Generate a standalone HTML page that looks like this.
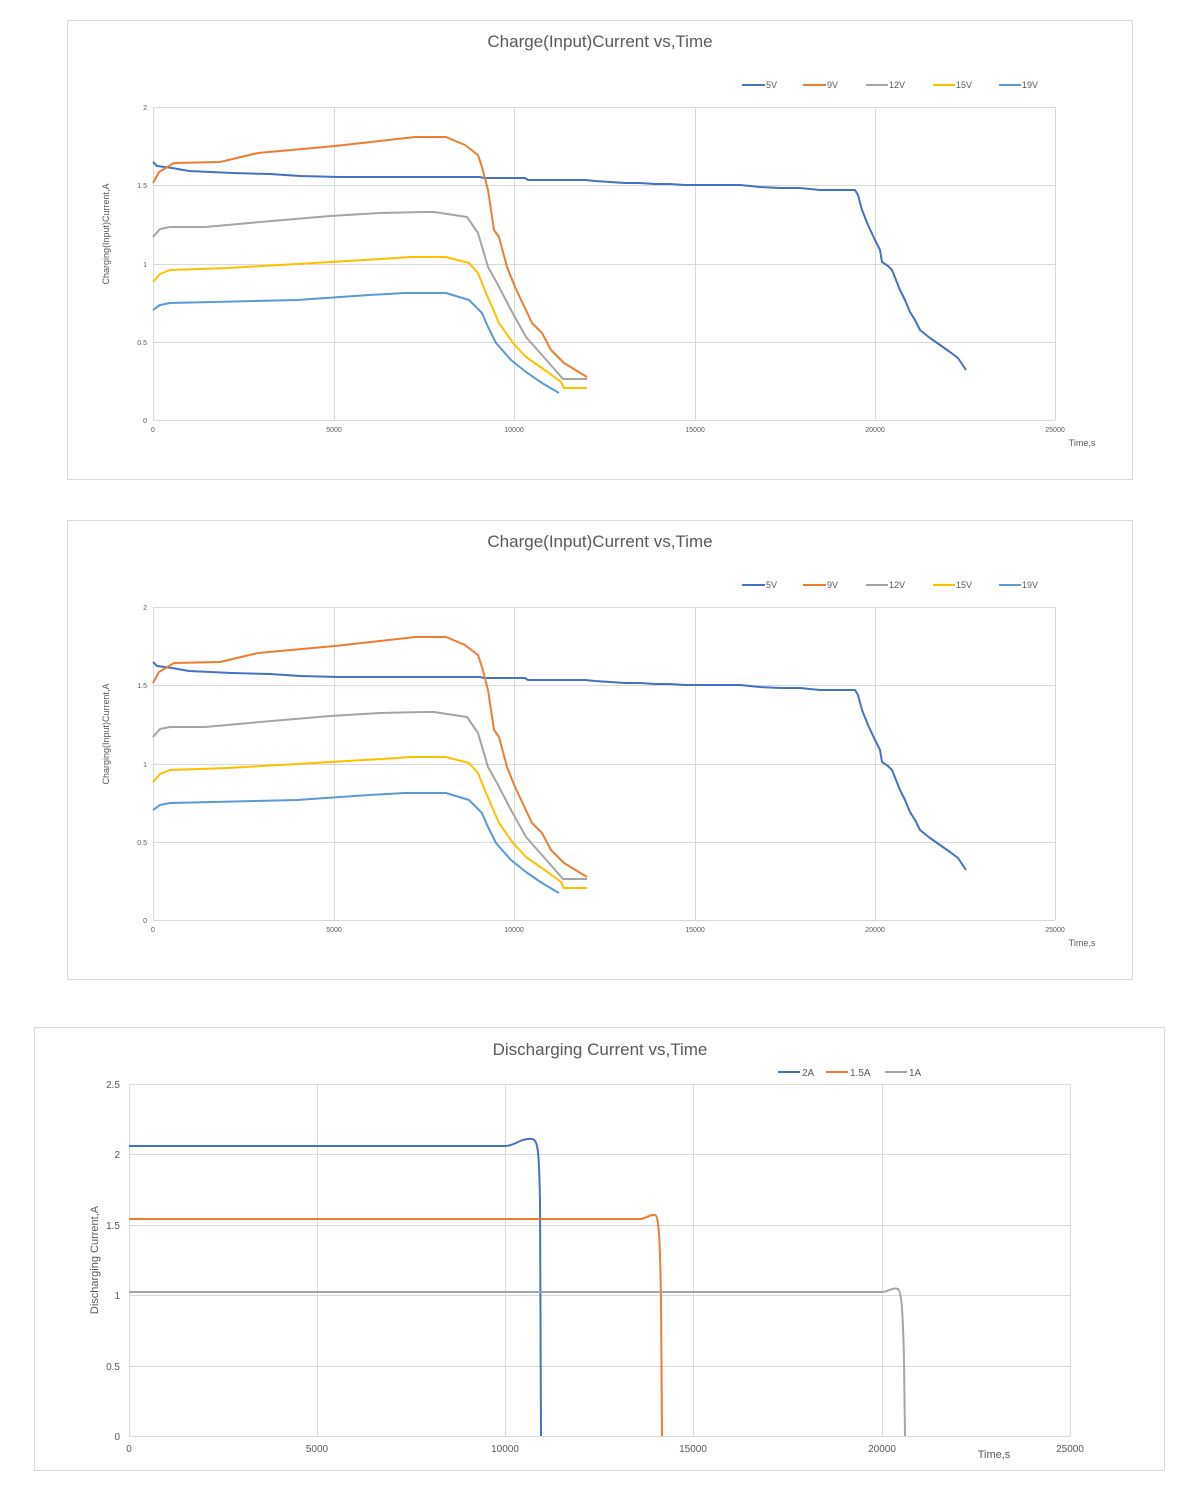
<!DOCTYPE html>
<html><head><meta charset="utf-8"><style>
html,body{margin:0;padding:0;background:#fff;width:1200px;height:1500px;overflow:hidden}
svg{position:absolute;left:0;font-family:"Liberation Sans",sans-serif}
</style></head><body>
<svg width="1200" height="500" style="top:0" viewBox="0 0 1200 500">
<rect x="67.5" y="20.5" width="1065" height="459" fill="#fff" stroke="#d9d9d9"/>
<text x="600" y="47" text-anchor="middle" font-size="17" fill="#595959">Charge(Input)Current vs,Time</text>
<g stroke-width="2" fill="none">
<line x1="742" y1="85" x2="765" y2="85" stroke="#4472C4"/><line x1="803" y1="85" x2="826" y2="85" stroke="#ED7D31"/><line x1="866" y1="85" x2="888" y2="85" stroke="#A5A5A5"/><line x1="933" y1="85" x2="955" y2="85" stroke="#FFC000"/><line x1="999" y1="85" x2="1021" y2="85" stroke="#5B9BD5"/></g>
<g font-size="9" fill="#595959"><text x="766" y="88">5V</text><text x="827" y="88">9V</text><text x="889" y="88">12V</text><text x="956" y="88">15V</text><text x="1022" y="88">19V</text></g>
<g stroke="#d9d9d9" stroke-width="1"><line x1="153" y1="107.5" x2="1055" y2="107.5"/><line x1="153" y1="185.5" x2="1055" y2="185.5"/><line x1="153" y1="264.5" x2="1055" y2="264.5"/><line x1="153" y1="342.5" x2="1055" y2="342.5"/><line x1="153" y1="420.5" x2="1055" y2="420.5"/>
<line x1="153.5" y1="107" x2="153.5" y2="420"/><line x1="334.5" y1="107" x2="334.5" y2="420"/><line x1="514.5" y1="107" x2="514.5" y2="420"/><line x1="695.5" y1="107" x2="695.5" y2="420"/><line x1="875.5" y1="107" x2="875.5" y2="420"/><line x1="1055.5" y1="107" x2="1055.5" y2="420"/></g>
<g font-size="7" fill="#595959" text-anchor="end"><text x="147" y="110">2</text><text x="147" y="188">1.5</text><text x="147" y="267">1</text><text x="147" y="345">0.5</text><text x="147" y="423">0</text></g>
<g font-size="7" fill="#595959" text-anchor="middle"><text x="153" y="432">0</text><text x="334" y="432">5000</text><text x="514" y="432">10000</text><text x="695" y="432">15000</text><text x="875" y="432">20000</text><text x="1055" y="432">25000</text></g>
<text x="1082" y="446" font-size="9" fill="#595959" text-anchor="middle">Time,s</text>
<text transform="translate(109,234) rotate(-90)" font-size="9" fill="#595959" text-anchor="middle">Charging(Input)Current,A</text>
<g fill="none" stroke-width="2" stroke-linejoin="round">
<polyline stroke="#4472C4" points="153,162 157,166 172,168 189,171 232,173 270,174 300,176 339,177 480,177 484,178 525,178 528,180 585,180 595,181 610,182 625,183 640,183 655,184 670,184 685,185 740,185 760,187 780,188 800,188 820,190 855,190 858,195 862,210 868,225 875,240 880,250 882,262 888,266 892,270 900,290 905,300 910,312 915,320 920,330 930,338 940,345 950,352 958,358 966,370"/>
<polyline stroke="#ED7D31" points="153,183 159,172 174,163 220,162 258,153 335,146 415,137 446,137 465,145 478,155 482,167 488,190 494,230 499,237 507,267 515,287 532,323 542,333 551,350 564,363 587,377"/>
<polyline stroke="#A5A5A5" points="153,237 160,229 170,227 205,227 260,222 330,216 380,213 423,212 434,212 467,217 478,233 488,267 497,283 511,310 526,337 549,363 563,379 587,379"/>
<polyline stroke="#FFC000" points="153,282 160,274 170,270 228,268 297,264 381,259 411,257 446,257 469,263 478,273 486,293 499,323 513,343 526,357 549,373 561,382 564,388 587,388"/>
<polyline stroke="#5B9BD5" points="153,310 160,305 170,303 297,300 369,295 404,293 446,293 469,300 482,313 488,327 496,343 511,360 526,372 542,383 559,393"/>
</g></svg>
<svg width="1200" height="500" style="top:500px" viewBox="0 0 1200 500">
<rect x="67.5" y="20.5" width="1065" height="459" fill="#fff" stroke="#d9d9d9"/>
<text x="600" y="47" text-anchor="middle" font-size="17" fill="#595959">Charge(Input)Current vs,Time</text>
<g stroke-width="2" fill="none">
<line x1="742" y1="85" x2="765" y2="85" stroke="#4472C4"/><line x1="803" y1="85" x2="826" y2="85" stroke="#ED7D31"/><line x1="866" y1="85" x2="888" y2="85" stroke="#A5A5A5"/><line x1="933" y1="85" x2="955" y2="85" stroke="#FFC000"/><line x1="999" y1="85" x2="1021" y2="85" stroke="#5B9BD5"/></g>
<g font-size="9" fill="#595959"><text x="766" y="88">5V</text><text x="827" y="88">9V</text><text x="889" y="88">12V</text><text x="956" y="88">15V</text><text x="1022" y="88">19V</text></g>
<g stroke="#d9d9d9" stroke-width="1"><line x1="153" y1="107.5" x2="1055" y2="107.5"/><line x1="153" y1="185.5" x2="1055" y2="185.5"/><line x1="153" y1="264.5" x2="1055" y2="264.5"/><line x1="153" y1="342.5" x2="1055" y2="342.5"/><line x1="153" y1="420.5" x2="1055" y2="420.5"/>
<line x1="153.5" y1="107" x2="153.5" y2="420"/><line x1="334.5" y1="107" x2="334.5" y2="420"/><line x1="514.5" y1="107" x2="514.5" y2="420"/><line x1="695.5" y1="107" x2="695.5" y2="420"/><line x1="875.5" y1="107" x2="875.5" y2="420"/><line x1="1055.5" y1="107" x2="1055.5" y2="420"/></g>
<g font-size="7" fill="#595959" text-anchor="end"><text x="147" y="110">2</text><text x="147" y="188">1.5</text><text x="147" y="267">1</text><text x="147" y="345">0.5</text><text x="147" y="423">0</text></g>
<g font-size="7" fill="#595959" text-anchor="middle"><text x="153" y="432">0</text><text x="334" y="432">5000</text><text x="514" y="432">10000</text><text x="695" y="432">15000</text><text x="875" y="432">20000</text><text x="1055" y="432">25000</text></g>
<text x="1082" y="446" font-size="9" fill="#595959" text-anchor="middle">Time,s</text>
<text transform="translate(109,234) rotate(-90)" font-size="9" fill="#595959" text-anchor="middle">Charging(Input)Current,A</text>
<g fill="none" stroke-width="2" stroke-linejoin="round">
<polyline stroke="#4472C4" points="153,162 157,166 172,168 189,171 232,173 270,174 300,176 339,177 480,177 484,178 525,178 528,180 585,180 595,181 610,182 625,183 640,183 655,184 670,184 685,185 740,185 760,187 780,188 800,188 820,190 855,190 858,195 862,210 868,225 875,240 880,250 882,262 888,266 892,270 900,290 905,300 910,312 915,320 920,330 930,338 940,345 950,352 958,358 966,370"/>
<polyline stroke="#ED7D31" points="153,183 159,172 174,163 220,162 258,153 335,146 415,137 446,137 465,145 478,155 482,167 488,190 494,230 499,237 507,267 515,287 532,323 542,333 551,350 564,363 587,377"/>
<polyline stroke="#A5A5A5" points="153,237 160,229 170,227 205,227 260,222 330,216 380,213 423,212 434,212 467,217 478,233 488,267 497,283 511,310 526,337 549,363 563,379 587,379"/>
<polyline stroke="#FFC000" points="153,282 160,274 170,270 228,268 297,264 381,259 411,257 446,257 469,263 478,273 486,293 499,323 513,343 526,357 549,373 561,382 564,388 587,388"/>
<polyline stroke="#5B9BD5" points="153,310 160,305 170,303 297,300 369,295 404,293 446,293 469,300 482,313 488,327 496,343 511,360 526,372 542,383 559,393"/>
</g></svg>
<svg width="1200" height="500" style="top:1000px" viewBox="0 1000 1200 500">
<rect x="34.5" y="1027.5" width="1130" height="443" fill="#fff" stroke="#d9d9d9"/>
<text x="600" y="1055" text-anchor="middle" font-size="17" fill="#595959">Discharging Current vs,Time</text>
<g stroke-width="2"><line x1="778" y1="1072" x2="800" y2="1072" stroke="#4472C4"/><line x1="826" y1="1072" x2="848" y2="1072" stroke="#ED7D31"/><line x1="885" y1="1072" x2="907" y2="1072" stroke="#A5A5A5"/></g>
<g font-size="10" fill="#595959"><text x="802" y="1076">2A</text><text x="850" y="1076">1.5A</text><text x="909" y="1076">1A</text></g>
<g stroke="#d9d9d9" stroke-width="1"><line x1="129" y1="1084.5" x2="1070" y2="1084.5"/><line x1="129" y1="1154.5" x2="1070" y2="1154.5"/><line x1="129" y1="1225.5" x2="1070" y2="1225.5"/><line x1="129" y1="1295.5" x2="1070" y2="1295.5"/><line x1="129" y1="1366.5" x2="1070" y2="1366.5"/><line x1="129" y1="1436.5" x2="1070" y2="1436.5"/>
<line x1="129.5" y1="1084" x2="129.5" y2="1436"/><line x1="317.5" y1="1084" x2="317.5" y2="1436"/><line x1="505.5" y1="1084" x2="505.5" y2="1436"/><line x1="693.5" y1="1084" x2="693.5" y2="1436"/><line x1="882.5" y1="1084" x2="882.5" y2="1436"/><line x1="1070.5" y1="1084" x2="1070.5" y2="1436"/></g>
<g font-size="10" fill="#595959" text-anchor="end"><text x="120" y="1088">2.5</text><text x="120" y="1158">2</text><text x="120" y="1229">1.5</text><text x="120" y="1299">1</text><text x="120" y="1370">0.5</text><text x="120" y="1440">0</text></g>
<g font-size="10" fill="#595959" text-anchor="middle"><text x="129" y="1452">0</text><text x="317" y="1452">5000</text><text x="505" y="1452">10000</text><text x="693" y="1452">15000</text><text x="882" y="1452">20000</text><text x="1070" y="1452">25000</text></g>
<text x="994" y="1458" font-size="11" fill="#595959" text-anchor="middle">Time,s</text>
<text transform="translate(98,1260) rotate(-90)" font-size="11" fill="#595959" text-anchor="middle">Discharging Current,A</text>
<g fill="none" stroke-width="2">
<path stroke="#4472C4" d="M129,1146 L505,1146 C515,1146 520,1138 532,1139 C538,1140 539,1150 540,1200 L541,1436"/>
<path stroke="#ED7D31" d="M129,1219 L640,1219 C645,1219 650,1214 655,1215 C659,1216 660,1240 661,1300 L662,1436"/>
<path stroke="#A5A5A5" d="M129,1292 L882,1292 C888,1292 892,1287 898,1289 C902,1291 903,1320 904,1360 L905,1436"/>
</g></svg>
</body></html>
